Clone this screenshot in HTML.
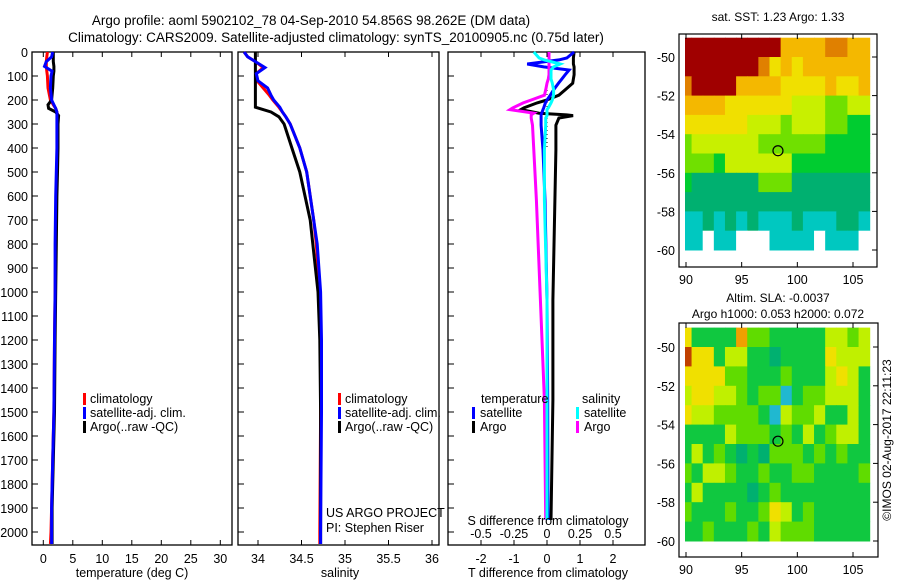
<!DOCTYPE html>
<html><head><meta charset="utf-8"><style>
body{margin:0;background:#fff;}
svg{display:block;font-family:"Liberation Sans",sans-serif;}
</style></head><body>
<svg id="s" width="900" height="580" viewBox="0 0 900 580">
<text x="311" y="25" font-size="13.5" text-anchor="middle">Argo profile: aoml 5902102_78 04-Sep-2010 54.856S 98.262E (DM data)</text>
<text x="336" y="42" font-size="13.5" text-anchor="middle">Climatology: CARS2009. Satellite-adjusted climatology: synTS_20100905.nc (0.75d later)</text>
</svg>
<script>
// ---- profile data (depth in m) ----
const tDepth=[0,20,40,60,80,100,150,200,220,235,250,265,300,400,500,600,800,1000,1200,1500,1700,1900,2000,2050];
const tClim=[0.7,0.6,0.5,0.5,0.6,0.7,0.8,1.2,1.7,2.1,2.3,2.4,2.4,2.4,2.3,2.2,2.1,2.0,1.9,1.8,1.6,1.4,1.3,1.2];
const tSat=[1.6,1.4,0.5,0.2,1.5,1.3,1.2,1.4,1.8,2.1,2.3,2.3,2.3,2.3,2.2,2.1,2.0,2.0,1.9,1.8,1.6,1.4,1.4,1.4];
const tArgo=[1.7,1.7,1.7,1.8,1.8,1.7,1.6,1.4,0.8,0.9,2.1,2.6,2.5,2.5,2.4,2.3,2.2,2.1,2.0,1.9,1.7,1.5,1.5,1.5];
const sDepth=[0,20,40,65,90,120,150,180,200,230,250,270,300,400,500,600,700,800,900,1000,1200,1500,2000,2050];
const sClim=[33.84,33.88,33.97,34.06,33.98,33.99,34.06,34.13,34.17,34.24,34.28,34.32,34.37,34.48,34.56,34.6,34.64,34.67,34.69,34.71,34.72,34.72,34.71,34.71];
const sSat=[33.84,33.88,33.97,34.08,33.98,34.0,34.11,34.15,34.18,34.25,34.28,34.32,34.37,34.48,34.56,34.6,34.64,34.68,34.7,34.72,34.73,34.73,34.72,34.72];
const sArgo=[33.97,33.97,33.97,33.97,33.97,33.97,33.97,33.97,33.97,33.97,34.15,34.24,34.3,34.39,34.48,34.54,34.6,34.63,34.66,34.69,34.71,34.72,34.72,34.72];
// ---- difference data ----
const dDepth=[0,25,33,50,62,75,95,112,130,158,180,200,212,233,240,255,262,265,275,305,408,617,1033,1450,1950];
const dTArgo=[0.82,0.8,0.8,0.8,0.82,0.82,0.82,0.8,0.78,0.55,0.36,0.0,-0.3,-0.7,-0.79,-0.24,0.6,0.79,0.36,0.27,0.27,0.24,0.18,0.18,0.12];
const dTSat=[0.82,0.6,0.36,-0.6,-0.1,0.67,0.55,0.45,0.35,0.2,0.1,0.0,-0.05,-0.1,-0.12,-0.16,-0.18,-0.18,-0.18,-0.18,-0.12,-0.06,0.0,0.02,0.03];
const dSArgo=[0.015,0.015,0.015,0.015,0.015,0.015,0.015,0.01,0.0,-0.01,-0.02,-0.12,-0.18,-0.26,-0.28,-0.1,-0.12,-0.12,-0.12,-0.11,-0.1,-0.08,-0.05,-0.02,-0.01];
const dSSat=[-0.1,-0.06,-0.02,0.1,0.05,0.03,0.03,0.03,0.04,0.05,0.05,0.04,0.03,0.01,0.0,0.0,0.0,0.0,-0.01,-0.01,-0.02,-0.02,0.0,0.0,0.0];
// ---- tick labels ----
const depthTicks=[0,100,200,300,400,500,600,700,800,900,1000,1100,1200,1300,1400,1500,1600,1700,1800,1900,2000];
const tempTicks=[0,5,10,15,20,25,30];
const salTicks=[34,34.5,35,35.5,36];
const tdTicks=[-2,-1,0,1,2];
const sdTicks=[-0.5,-0.25,0,0.25,0.5];
const lonTicks=[90,95,100,105];
const latTicks=[-50,-52,-54,-56,-58,-60];
// ---- map grids (rows lat -49..-60 by 1 deg, cols lon 89.5..107 by 1 deg), level indices ----
const sstGrid=[
"88888888866667766",
"88888887565666666",
"78888666655556556",
"66665555554443344",
"55555544434443322",
"34444443333332222",
"33324444442222222",
"21111113331111111",
"11111111111111111",
"00101010001000110",
"00900999000090009"];
const slaGrid=[
"52222633222224434",
"75524422122225444",
"55553322232224542",
"45544323302334442",
"54433332043342242",
"22224333232423442",
"24232121333232322",
"32443223223322223",
"24222212322222222",
"32223223542322222",
"22322232433322222"];
const sstColors=["#00c8c0","#00b070","#00cc30","#70e000","#c8f000","#f0e000","#f4b800","#e08000","#a00000","#ffffff"];
const slaColors=["#20b8d0","#00b070","#10c840","#60dc00","#c0f000","#f0e000","#f0a000","#c04000"];

const NS='http://www.w3.org/2000/svg';
const svg=document.getElementById('s');
function el(tag,attrs,parent){const e=document.createElementNS(NS,tag);for(const k in attrs)e.setAttribute(k,attrs[k]);(parent||svg).appendChild(e);return e;}
function txt(x,y,s,size,anchor,parent){const t=el('text',{x:x,y:y,'font-size':size,'text-anchor':anchor||'middle'},parent);t.textContent=s;return t;}

const yTop=52, yScale=0.24;
const yD=d=>yTop+d*yScale;
const xT=v=>43.3+v*5.9;
const xS=v=>258+(v-34)*87;
const xTD=v=>547+v*33;
const xSD=v=>547+v*132;

function panel(x0,x1,name){
  const g=el('g',{});
  
  
  el('rect',{x:x0,y:52,width:x1-x0,height:493,fill:'none',stroke:'#000','stroke-width':1.3},g);
  depthTicks.forEach(d=>{el('line',{x1:x0,x2:x0+6,y1:yD(d),y2:yD(d),stroke:'#000'},g);});
  return g;
}
function line(g,xs,ds,fx,color,name,w){
  const p=el('polyline',{points:xs.map((v,i)=>fx(v).toFixed(1)+','+yD(ds[i]).toFixed(1)).join(' '),fill:'none',stroke:color,'stroke-width':w||3,'stroke-linejoin':'miter'},g);
  
  
}
// Panel 1
const p1=panel(32,232,'temperature-panel');
depthTicks.forEach(d=>{const t=txt(28,yD(d)+5,String(d),12.5,'end',p1);});
tempTicks.forEach(v=>{el('line',{x1:xT(v),x2:xT(v),y1:545,y2:540,stroke:'#000'},p1);el('line',{x1:xT(v),x2:xT(v),y1:52,y2:57,stroke:'#000'},p1);const t=txt(xT(v),563,String(v),12.5,'middle',p1);});
line(p1,tClim,tDepth,xT,'#f00','temp-climatology-line');
line(p1,tArgo,tDepth,xT,'#000','temp-argo-line');
line(p1,tSat,tDepth,xT,'#00f','temp-satellite-line');
const xl1=txt(132,577,'temperature (deg C)',12.5,'middle',p1);
function legend3(g,x,y,name){
  const lg=el('g',{},g);
  
  
  [['#f00','climatology'],['#00f','satellite-adj. clim.'],['#000','Argo(..raw -QC)']].forEach((it,i)=>{
    el('rect',{x:x,y:y+i*14-10,width:3,height:12,fill:it[0]},lg);
    txt(x+7,y+i*14,it[1],12.5,'start',lg);
  });
}
legend3(p1,83,403,'temperature-legend');
// Panel 2
const p2=panel(238,439,'salinity-panel');
salTicks.forEach(v=>{el('line',{x1:xS(v),x2:xS(v),y1:545,y2:540,stroke:'#000'},p2);el('line',{x1:xS(v),x2:xS(v),y1:52,y2:57,stroke:'#000'},p2);const t=txt(xS(v),563,String(v),12.5,'middle',p2);});
line(p2,sClim,sDepth,xS,'#f00','sal-climatology-line');
line(p2,sArgo,sDepth,xS,'#000','sal-argo-line');
line(p2,sSat,sDepth,xS,'#00f','sal-satellite-line');
const xl2=txt(340,577,'salinity',12.5,'middle',p2);
legend3(p2,338,403,'salinity-legend');
const us=txt(326,517,'US ARGO PROJECT',12.5,'start',p2);
const pi=txt(326,532,'PI: Stephen Riser',12.5,'start',p2);
// Panel 3
const p3=panel(448,645,'difference-panel');
tdTicks.forEach(v=>{el('line',{x1:xTD(v),x2:xTD(v),y1:545,y2:540,stroke:'#000'},p3);el('line',{x1:xTD(v),x2:xTD(v),y1:52,y2:57,stroke:'#000'},p3);const t=txt(xTD(v),563,String(v),12.5,'middle',p3);});
sdTicks.forEach(v=>{const t=txt(xSD(v),538,String(v),12.5,'middle',p3);});
el('line',{x1:547,x2:547,y1:90,y2:150,stroke:'#000','stroke-dasharray':'1,3'},p3);
line(p3,dTArgo,dDepth,xTD,'#000','tdiff-argo-line');
line(p3,dTSat,dDepth,xTD,'#00f','tdiff-satellite-line');
line(p3,dSArgo,dDepth,xSD,'#f0f','sdiff-argo-line');
line(p3,dSSat,dDepth,xSD,'#0ff','sdiff-satellite-line');
const st=txt(548,525,'S difference from climatology',12.5,'middle',p3);
const tt=txt(548,577,'T difference from climatology',12.5,'middle',p3);
const lg3=el('g',{},p3);


txt(481,403,'temperature',12.5,'start',lg3);txt(582,403,'salinity',12.5,'start',lg3);
[['#00f','satellite',472,417],['#000','Argo',472,431],['#0ff','satellite',576,417],['#f0f','Argo',576,431]].forEach(it=>{el('rect',{x:it[2],y:it[3]-10,width:3,height:12,fill:it[0]},lg3);txt(it[2]+8,it[3],it[1],12.5,'start',lg3);});

// Maps
function map(grid,colors,fx0,fy0,fx1,fy1,y50,y60,name,title){
  const g=el('g',{});
  
  
  const degY=(y60-y50)/10, degX=(853-686)/15;
  const lon=v=>686+(v-90)*degX, lat=v=>y50+(-50-v)*degY;
  grid.forEach((row,r)=>{for(let c=0;c<row.length;c++){
    const lv=+row[c];
    const x0=Math.max(lon(89.5+c),fx0+6), x1=Math.min(lon(90.5+c),fx1);
    const ya=Math.max(lat(-49-r),fy0+2), yb=lat(-50-r);
    const cell=el('rect',{x:x0,y:ya,width:Math.max(0,x1-x0+0.5),height:yb-ya+0.5,fill:colors[lv]},g);
    
    
  }});
  el('rect',{x:fx0,y:fy0,width:fx1-fx0,height:fy1-fy0,fill:'none',stroke:'#000','stroke-width':1.2},g);
  lonTicks.forEach(v=>{el('line',{x1:lon(v),x2:lon(v),y1:fy1,y2:fy1-5,stroke:'#000'},g);el('line',{x1:lon(v),x2:lon(v),y1:fy0,y2:fy0+5,stroke:'#000'},g);txt(lon(v),fy1+17,String(v),12.5,'middle',g);});
  latTicks.forEach(v=>{el('line',{x1:fx1,x2:fx1-5,y1:lat(v),y2:lat(v),stroke:'#000'},g);txt(fx0-4,lat(v)+5,String(v),12.5,'end',g);});
  el('circle',{cx:lon(98.26),cy:lat(-54.856),r:5,fill:'none',stroke:'#000','stroke-width':1.2},g);
  title.forEach((s,i)=>txt(778,fy0-21+i*16+(title.length==1?8:0),s,12,'middle',g));
}
map(sstGrid,sstColors,679,34,877,267,57,250,'sst-map',['sat. SST: 1.23 Argo: 1.33']);
map(slaGrid,slaColors,679,323,878,557,347,541,'sla-map',['Altim. SLA: -0.0037','Argo h1000: 0.053 h2000: 0.072']);
const cp=txt(0,0,'\u00a9IMOS 02-Aug-2017 22:11:23',12,'middle');
cp.setAttribute('transform','translate(891,440) rotate(-90)');


</script>
</body></html>
